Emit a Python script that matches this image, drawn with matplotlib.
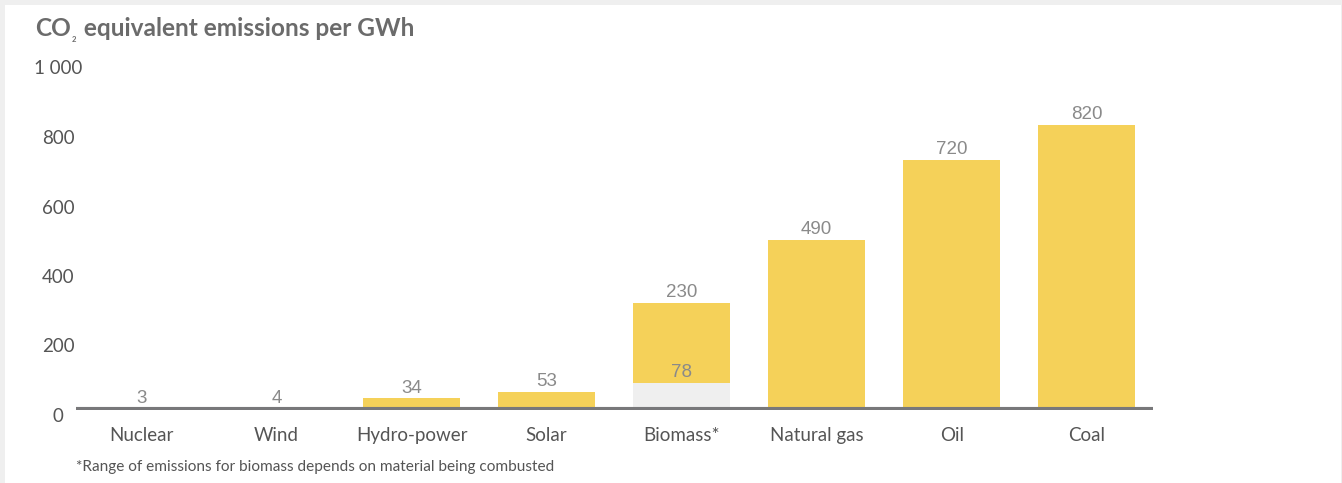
import matplotlib
matplotlib.use("Agg")
from matplotlib import pyplot as plt
from matplotlib.patches import Rectangle
from matplotlib.transforms import ScaledTranslation

categories = ["Nuclear", "Wind", "Hydro-power", "Solar", "Biomass*", "Natural gas", "Oil", "Coal"]
values = [3, 4, 34, 53, 230, 490, 720, 820]
# lower end of the biomass range, drawn as a grey block under the yellow bar
bottoms = [0, 0, 0, 0, 78, 0, 0, 0]
yticks = [0, 200, 400, 600, 800, 1000]
ytick_labels = ["0", "200", "400", "600", "800", "1 000"]

yellow = "#f5d159"
light = "#efefef"
axis_grey = "#78787a"
text_grey = "#555555"
value_grey = "#8a8a8a"

plt.rcParams["font.family"] = ["Lato", "DejaVu Sans"]

fig = plt.figure(figsize=(13.42, 4.83), dpi=100, facecolor="#efefef")
fig.patches.append(Rectangle((5 / 1342, 0), 1336 / 1342, 478 / 483, transform=fig.transFigure,
                             facecolor="white", edgecolor="none", zorder=-10))

ax = fig.add_axes([76 / 1342, 73 / 483, 1077 / 1342, 347.5 / 483])
ax.set_facecolor("none")

x = range(len(categories))
ax.bar(x, bottoms, width=0.72, color=light, zorder=2)
ax.bar(x, values, width=0.72, bottom=bottoms, color=yellow, zorder=2)
ax.axhline(0, color=axis_grey, lw=4.4, zorder=3, solid_capstyle="butt")

for i in x:
    top = bottoms[i] + values[i]
    ax.annotate(str(values[i]), (i, top), xytext=(0, 1.2), textcoords="offset points",
                ha="center", va="bottom", fontsize=13.5, color=value_grey,
                family=["Liberation Sans", "DejaVu Sans"], zorder=4)
    if bottoms[i]:
        ax.annotate(str(bottoms[i]), (i, bottoms[i]), xytext=(0, 1.2), textcoords="offset points",
                    ha="center", va="bottom", fontsize=13.5, color=value_grey,
                    family=["Liberation Sans", "DejaVu Sans"], zorder=4)

ax.set_xlim(-0.485, 7.49)
ax.set_ylim(0, 1000)
ax.set_xticks(list(x))
ax.set_xticklabels(categories, fontsize=13.5, color=text_grey)
ax.set_yticks(yticks)
ax.set_yticklabels(ytick_labels, fontsize=13.5, color=text_grey)
ax.tick_params(axis="both", length=0)
ax.tick_params(axis="x", pad=12.5)
ax.tick_params(axis="y", pad=13)
shift = ScaledTranslation(0, -5 / 100, fig.dpi_scale_trans)
for lbl in ax.get_yticklabels():
    lbl.set_horizontalalignment("center")
    lbl.set_transform(lbl.get_transform() + shift)
for s in ax.spines.values():
    s.set_visible(False)

# title with a small subscript 2
t1 = fig.text(35 / 1342, 1 - 28 / 483, "CO", fontsize=17.6, fontweight="bold", color="#6b6b6b", va="center")
ax.annotate("2", xy=(1, 0.5), xycoords=t1, xytext=(1, -6), textcoords="offset points",
            fontsize=5.5, fontweight="bold", color="#6b6b6b", va="top", annotation_clip=False)
ax.annotate(" equivalent emissions per GWh", xy=(1, 0.5), xycoords=t1, xytext=(5, 0),
            textcoords="offset points", fontsize=17.6, fontweight="bold", color="#6b6b6b",
            va="center", annotation_clip=False)

fig.text(76 / 1342, 1 - 467 / 483, "*Range of emissions for biomass depends on material being combusted",
         fontsize=11.1, color=text_grey, va="center")

fig.savefig("out.png", dpi=100, facecolor=fig.get_facecolor())
